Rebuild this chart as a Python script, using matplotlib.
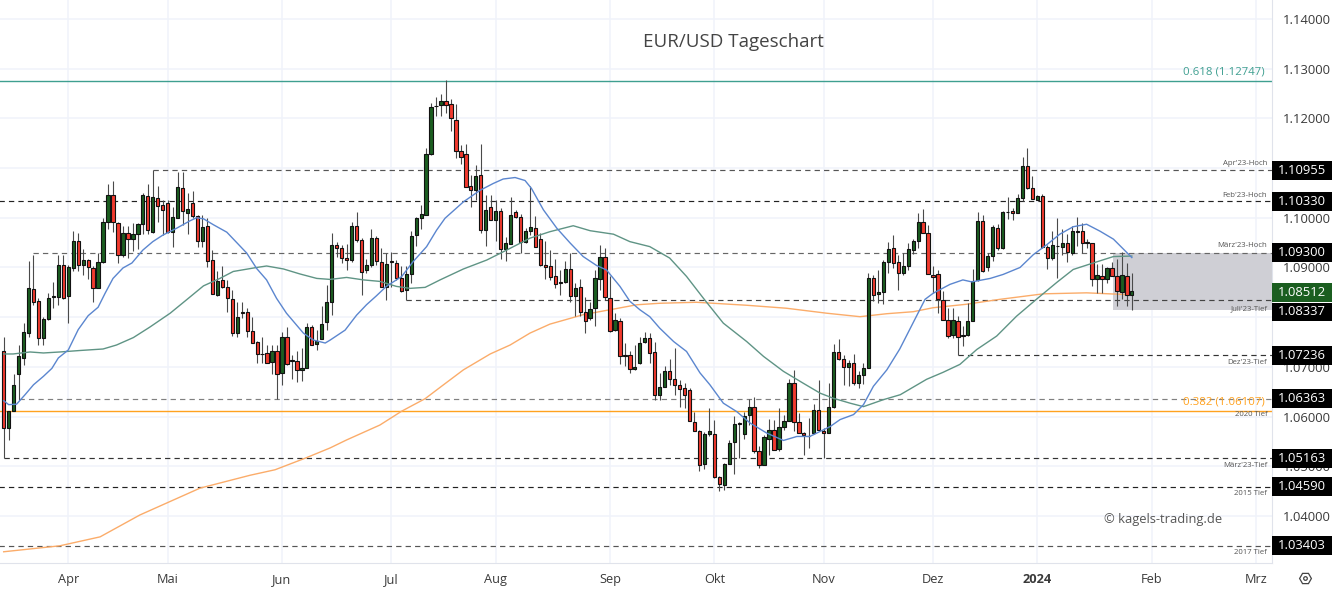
import matplotlib
matplotlib.use('Agg')
import matplotlib.pyplot as plt
from matplotlib.lines import Line2D
from matplotlib.patches import Rectangle

plt.rcParams['font.family'] = ['Open Sans', 'DejaVu Sans']

# Tageskerzen EUR/USD
opens = [1.0731,1.0578,1.0611,1.0685,1.0717,1.0769,1.0857,1.0833,1.0759,1.0796,
         1.0840,1.0840,1.0904,1.0843,1.0899,1.0954,1.0904,1.0916,1.0899,1.0859,
         1.0911,1.0991,1.1045,1.0989,1.0925,1.0969,1.0957,1.0968,1.0988,1.1043,
         1.0972,1.1040,1.1025,1.1030,1.0972,1.1000,1.1060,1.1009,1.1030,1.1004,
         1.0954,1.0983,1.0916,1.0845,1.0874,1.0860,1.0837,1.0768,1.0811,1.0811,
         1.0772,1.0751,1.0726,1.0727,1.0709,1.0732,1.0687,1.0760,1.0713,1.0711,
         1.0693,1.0697,1.0780,1.0747,1.0757,1.0790,1.0831,1.0945,1.0939,1.0920,
         1.0916,1.0983,1.0955,1.0894,1.0904,1.0959,1.0912,1.0861,1.0912,1.0910,
         1.0878,1.0854,1.0886,1.0966,1.1000,1.1006,1.1128,1.1224,1.1227,1.1235,
         1.1228,1.1197,1.1134,1.1129,1.1063,1.1056,1.1087,1.0976,1.1021,1.0996,
         1.1013,1.0937,1.0947,1.1011,1.1001,1.0951,1.0974,1.0979,1.0957,1.0904,
         1.0902,1.0883,1.0871,1.0870,1.0896,1.0843,1.0861,1.0810,1.0799,1.0819,
         1.0877,1.0922,1.0839,1.0774,1.0792,1.0723,1.0723,1.0695,1.0707,1.0750,
         1.0758,1.0729,1.0643,1.0660,1.0691,1.0675,1.0663,1.0657,1.0654,1.0590,
         1.0570,1.0505,1.0564,1.0564,1.0478,1.0463,1.0505,1.0548,1.0586,1.0565,
         1.0603,1.0619,1.0530,1.0503,1.0555,1.0573,1.0535,1.0580,1.0592,1.0667,
         1.0589,1.0567,1.0561,1.0566,1.0614,1.0572,1.0566,1.0619,1.0730,1.0716,
         1.0699,1.0708,1.0667,1.0683,1.0698,1.0878,1.0846,1.0851,1.0911,1.0939,
         1.0911,1.0888,1.0903,1.0936,1.0953,1.0992,1.0969,1.0885,1.0887,1.0835,
         1.0795,1.0764,1.0793,1.0764,1.0764,1.0793,1.0874,1.0993,1.0900,1.0924,
         1.0979,1.0940,1.1012,1.1013,1.1010,1.1040,1.1105,1.1060,1.1036,1.1044,
         1.0941,1.0920,1.0944,1.0941,1.0950,1.0930,1.0973,1.0973,1.0952,1.0949,
         1.0876,1.0882,1.0876,1.0898,1.0882,1.0851,1.0883,1.0845]
highs = [1.0761,1.0611,1.0686,1.0744,1.0788,1.0913,1.0925,1.0838,1.0800,1.0848,
         1.0871,1.0926,1.0925,1.0905,1.0973,1.0970,1.0938,1.0918,1.0902,1.0930,
         1.0999,1.1067,1.1075,1.0991,1.0983,1.0983,1.0990,1.0990,1.1049,1.1067,
         1.1096,1.1064,1.1036,1.1036,1.1021,1.1093,1.1093,1.1049,1.1054,1.1006,
         1.1006,1.0999,1.0935,1.0892,1.0902,1.0875,1.0855,1.0830,1.0831,1.0818,
         1.0801,1.0753,1.0761,1.0744,1.0744,1.0744,1.0771,1.0780,1.0723,1.0732,
         1.0739,1.0788,1.0784,1.0774,1.0823,1.0865,1.0969,1.0952,1.0945,1.0947,
         1.0991,1.1011,1.0959,1.0918,1.0977,1.0964,1.0940,1.0930,1.0932,1.0916,
         1.0902,1.0902,1.0973,1.1002,1.1026,1.1140,1.1230,1.1243,1.1249,1.1277,
         1.1240,1.1229,1.1146,1.1148,1.1086,1.1107,1.1148,1.1046,1.1046,1.1036,
         1.1019,1.0962,1.1042,1.1016,1.1007,1.0979,1.1064,1.1004,1.0969,1.0953,
         1.0935,1.0918,1.0894,1.0914,1.0930,1.0868,1.0877,1.0841,1.0831,1.0895,
         1.0945,1.0940,1.0882,1.0809,1.0798,1.0749,1.0731,1.0744,1.0761,1.0770,
         1.0768,1.0751,1.0688,1.0701,1.0716,1.0738,1.0673,1.0667,1.0657,1.0610,
         1.0574,1.0569,1.0617,1.0594,1.0480,1.0507,1.0552,1.0602,1.0590,1.0610,
         1.0636,1.0639,1.0540,1.0562,1.0596,1.0594,1.0617,1.0604,1.0676,1.0694,
         1.0607,1.0569,1.0597,1.0626,1.0674,1.0577,1.0667,1.0746,1.0757,1.0724,
         1.0714,1.0726,1.0691,1.0708,1.0889,1.0885,1.0895,1.0915,1.0952,1.0966,
         1.0925,1.0929,1.0949,1.0958,1.1009,1.1018,1.0985,1.0903,1.0895,1.0853,
         1.0819,1.0819,1.0803,1.0782,1.0829,1.0896,1.1012,1.1005,1.0930,1.0985,
         1.0987,1.1014,1.1042,1.1020,1.1047,1.1123,1.1141,1.1085,1.1045,1.1047,
         1.0945,1.0973,1.1000,1.0977,1.0967,1.0983,1.1001,1.0990,1.0957,1.0950,
         1.0908,1.0908,1.0900,1.0911,1.0918,1.0931,1.0910,1.0888]
lows = [1.0516,1.0552,1.0611,1.0634,1.0704,1.0761,1.0825,1.0744,1.0744,1.0794,
        1.0818,1.0825,1.0836,1.0788,1.0892,1.0892,1.0885,1.0877,1.0831,1.0858,
        1.0910,1.0977,1.0972,1.0910,1.0922,1.0919,1.0933,1.0938,1.0967,1.0967,
        1.0969,1.0992,1.0965,1.0969,1.0942,1.0999,1.0985,1.0967,1.0999,1.0942,
        1.0942,1.0900,1.0846,1.0843,1.0858,1.0811,1.0762,1.0761,1.0798,1.0761,
        1.0748,1.0707,1.0707,1.0707,1.0686,1.0636,1.0664,1.0704,1.0675,1.0669,
        1.0671,1.0697,1.0744,1.0734,1.0757,1.0774,1.0805,1.0922,1.0910,1.0895,
        1.0912,1.0952,1.0845,1.0888,1.0900,1.0905,1.0860,1.0835,1.0861,1.0875,
        1.0851,1.0834,1.0868,1.0944,1.0977,1.1005,1.1127,1.1205,1.1205,1.1210,
        1.1174,1.1120,1.1109,1.1061,1.1022,1.1036,1.0969,1.0944,1.0995,1.0954,
        1.0918,1.0914,1.0947,1.0999,1.0930,1.0950,1.0965,1.0942,1.0902,1.0876,
        1.0875,1.0858,1.0845,1.0868,1.0831,1.0803,1.0803,1.0768,1.0794,1.0783,
        1.0855,1.0835,1.0771,1.0773,1.0706,1.0701,1.0687,1.0694,1.0706,1.0748,
        1.0708,1.0634,1.0634,1.0660,1.0664,1.0644,1.0619,1.0617,1.0592,1.0570,
        1.0490,1.0495,1.0560,1.0477,1.0450,1.0453,1.0505,1.0484,1.0516,1.0555,
        1.0584,1.0527,1.0497,1.0503,1.0523,1.0533,1.0530,1.0574,1.0592,1.0570,
        1.0566,1.0523,1.0537,1.0564,1.0570,1.0517,1.0566,1.0617,1.0714,1.0664,
        1.0661,1.0664,1.0657,1.0666,1.0697,1.0832,1.0828,1.0827,1.0889,1.0899,
        1.0854,1.0884,1.0895,1.0927,1.0940,1.0969,1.0886,1.0849,1.0809,1.0795,
        1.0759,1.0759,1.0724,1.0743,1.0762,1.0792,1.0873,1.0891,1.0893,1.0913,
        1.0936,1.0938,1.0997,1.0995,1.1009,1.1034,1.1057,1.1037,1.1035,1.0940,
        1.0896,1.0916,1.0879,1.0925,1.0911,1.0925,1.0943,1.0930,1.0940,1.0863,
        1.0848,1.0848,1.0869,1.0882,1.0823,1.0836,1.0823,1.0814]
closes = [1.0577,1.0611,1.0664,1.0721,1.0770,1.0858,1.0831,1.0759,1.0796,1.0839,
          1.0842,1.0904,1.0838,1.0900,1.0954,1.0905,1.0916,1.0900,1.0859,1.0911,
          1.0991,1.1046,1.0991,1.0926,1.0970,1.0957,1.0968,1.0988,1.1045,1.0975,
          1.1042,1.1023,1.1015,1.0972,1.1002,1.1062,1.1013,1.1017,1.1003,1.0954,
          1.0981,1.0914,1.0846,1.0873,1.0860,1.0839,1.0768,1.0801,1.0809,1.0772,
          1.0749,1.0725,1.0725,1.0707,1.0732,1.0685,1.0760,1.0705,1.0711,1.0694,
          1.0697,1.0780,1.0745,1.0753,1.0786,1.0831,1.0945,1.0939,1.0920,1.0916,
          1.0983,1.0955,1.0891,1.0906,1.0960,1.0914,1.0861,1.0908,1.0911,1.0878,
          1.0853,1.0887,1.0963,1.1000,1.1007,1.1128,1.1222,1.1225,1.1235,1.1227,
          1.1200,1.1134,1.1123,1.1061,1.1056,1.1085,1.0976,1.1015,1.0996,1.1013,
          1.0937,1.0949,1.1006,1.1002,1.0951,1.0974,1.0981,1.0942,1.0904,1.0900,
          1.0880,1.0866,1.0869,1.0896,1.0843,1.0859,1.0810,1.0792,1.0817,1.0878,
          1.0922,1.0840,1.0772,1.0794,1.0722,1.0722,1.0695,1.0699,1.0749,1.0758,
          1.0728,1.0643,1.0659,1.0691,1.0675,1.0663,1.0655,1.0644,1.0592,1.0570,
          1.0503,1.0564,1.0571,1.0478,1.0465,1.0505,1.0547,1.0585,1.0585,1.0602,
          1.0619,1.0530,1.0503,1.0559,1.0573,1.0533,1.0580,1.0592,1.0667,1.0590,
          1.0567,1.0562,1.0560,1.0614,1.0574,1.0567,1.0619,1.0730,1.0716,1.0700,
          1.0708,1.0667,1.0684,1.0698,1.0878,1.0844,1.0851,1.0911,1.0938,1.0910,
          1.0889,1.0903,1.0938,1.0954,1.0991,1.0970,1.0886,1.0881,1.0836,1.0795,
          1.0763,1.0795,1.0761,1.0762,1.0793,1.0873,1.0993,1.0892,1.0924,1.0981,
          1.0940,1.1011,1.1011,1.1009,1.1039,1.1105,1.1060,1.1038,1.1044,1.0942,
          1.0920,1.0945,1.0943,1.0950,1.0932,1.0973,1.0972,1.0950,1.0949,1.0876,
          1.0884,1.0876,1.0898,1.0882,1.0852,1.0885,1.0845,1.0852]

# gleitende Durchschnitte (Kerze, Kurs)
ma20_bars = [0,1,2.6,4.3,6,8,9.7,11,13,15,17,19,20.4,22,24,25.8,28,30,32,34.8,37.5,38.8,40.2,42.2,44.9,
             46.9,48.9,50.9,52.9,54.9,56.9,60.3,62.3,64.7,65.7,68.7,71,73,75,77,80.1,82.4,85.1,87.1,88.8,
             92.5,95.8,98.5,100.5,102.9,104.9,106.2,108.6,111.3,114,116.6,119.3,121.3,124,126,128,130,132,
             134.8,137.4,140.1,142.1,144.8,147.5,150.2,153.5,156.9,159.6,162.2,166.3,168.3,171,173,175,
             177.7,180.3,183,185.4,187,190.4,193,194.8,198.5,201.1,204.5,207.2,209.9,212.5,215.2,217.9,
             220.6,223.3,227]
ma20_vals = [1.0632,1.0624,1.0625,1.0644,1.0664,1.0681,1.0697,1.0718,1.0734,1.0775,1.0803,1.0820,1.0848,1.0878,
             1.0899,1.0909,1.0935,1.0952,1.0965,1.0979,1.0994,1.1000,1.0998,1.0986,1.0971,1.0950,1.0929,1.0898,
             1.0875,1.0838,1.0808,1.0768,1.0754,1.0748,1.0754,1.0774,1.0804,1.0825,1.0843,1.0862,1.0882,1.0912,
             1.0942,1.0975,1.0999,1.1032,1.1055,1.1069,1.1078,1.1081,1.1075,1.1059,1.1016,1.0979,1.0949,1.0922,
             1.0904,1.0895,1.0862,1.0832,1.0815,1.0801,1.0778,1.0751,1.0731,1.0688,1.0664,1.0627,1.0610,1.0587,
             1.0567,1.0552,1.0560,1.0560,1.0580,1.0594,1.0604,1.0624,1.0661,1.0694,1.0736,1.0789,1.0836,1.0848,
             1.0866,1.0875,1.0871,1.0878,1.0886,1.0900,1.0926,1.0946,1.0967,1.0982,1.0987,1.0973,1.0957,1.0920]
ma50_bars = [0,1.9,5.3,8,11.3,15.4,20,22.7,26.1,29.4,33.5,36.8,40.2,43.5,46.2,50.9,52.9,56.3,59.6,63,65.7,69,72.4,
             75.7,79,81.8,84.8,87.8,92.5,97.2,101.2,105.9,109.9,114.6,118,122.7,126,130,134,137.4,140.8,144.8,
             149.5,152.9,156.9,160.9,164.3,166.9,170.3,173,177,180.4,185.7,189,192.4,195.8,199.8,203.8,207.8,
             211.9,215.2,218.9,223.3,227]
ma50_vals = [1.0726,1.0726,1.0730,1.0728,1.0730,1.0733,1.0736,1.0744,1.0759,1.0780,1.0808,1.0835,1.0863,1.0878,
             1.0892,1.0900,1.0903,1.0897,1.0887,1.0878,1.0876,1.0880,1.0875,1.0872,1.0862,1.0858,1.0860,1.0875,
             1.0897,1.0915,1.0935,1.0959,1.0972,1.0984,1.0974,1.0967,1.0952,1.0942,1.0919,1.0882,1.0838,1.0788,
             1.0751,1.0721,1.0691,1.0667,1.0647,1.0637,1.0627,1.0620,1.0634,1.0644,1.0675,1.0689,1.0705,1.0735,
             1.0762,1.0802,1.0836,1.0870,1.0896,1.0908,1.0922,1.0923]
ma200_bars = [0,11.3,19.4,27.4,39.5,49.6,54.6,60.6,65.7,69,75.7,80.1,84.8,88.5,92.5,97.9,101.9,105.9,109.9,116.6,
              122,127.4,132,139.4,149.5,157.5,165.6,172.3,177.7,183,187,193.7,200.5,209.2,217.9,227]
ma200_vals = [1.0328,1.0340,1.0358,1.0402,1.0456,1.0482,1.0493,1.0516,1.0537,1.0553,1.0583,1.0611,1.0636,1.0664,
              1.0694,1.0726,1.0744,1.0768,1.0786,1.0805,1.0815,1.0825,1.0828,1.0830,1.0824,1.0818,1.0808,1.0801,
              1.0807,1.0811,1.0819,1.0826,1.0836,1.0847,1.0849,1.0845]

# Horizontale Marken
level_prices = [1.10955,1.10330,1.09300,1.08337,1.07236,1.06363,1.05163,1.04590,1.03403]
level_starts = [30,-1,6,81,192,3,0,-1,-1]
level_colors = ['#555555','#222222','#666666','#444444','#333333','#808080','#333333','#222222','#555555']
level_notes = ["Apr'23-Hoch","Feb'23-Hoch","März'23-Hoch","Juli'23-Tief","Dez'23-Tief",'',"März'23-Tief",'2015 Tief','2017 Tief']
note_offsets = [5,4.2,5,-6,-5,0,-5,-5,-5]
last_close = 1.08512
box_bottom = 1.08145
box_top = 1.09300
box_start = 223.3
fib_prices = [1.12747,1.06107]
fib_labels = ['0.618 (1.12747)','0.382 (1.06107)']
fib_colors = ['#3f9f90','#ffa21f']

tick_bars = [13,33,56,78,99,122,143,165,187,208,231,252]
tick_names = ['Apr','Mai','Jun','Jul','Aug','Sep','Okt','Nov','Dez','2024','Feb','Mrz']
price_ticks = [1.04,1.05,1.06,1.07,1.08,1.09,1.10,1.11,1.12,1.13,1.14]
# 1.08 und 1.11 liegen ganz unter den schwarzen Marken
hidden_ticks = [1.08,1.11]

fig = plt.figure(figsize=(13.32, 5.90), dpi=100)
ax = fig.add_axes([0, 27/590, 1272/1332, 563/590])
ax.set_xlim(-0.74, 255.2)
ax.set_ylim(1.03054, 1.14382)
ax.set_axisbelow(True)
ax.grid(True, color='#f0f3fa', linewidth=1.1)

ax.yaxis.tick_right()
ax.set_yticks(price_ticks)
ax.set_yticklabels(['' if p in hidden_ticks else '%.5f' % p for p in price_ticks], fontsize=9.4, color='#3a3a3a')
ax.set_xticks(tick_bars)
ax.set_xticklabels(tick_names, fontsize=9.2, color='#3a3a3a')
ax.get_xticklabels()[9].set_fontweight('bold')
ax.tick_params(length=0)
ax.tick_params(axis='y', pad=8)
ax.tick_params(axis='x', pad=7)
for side in ['left', 'top']:
    ax.spines[side].set_visible(False)
for side in ['right', 'bottom']:
    ax.spines[side].set_color('#e0e3eb')

# graue Box
ax.add_patch(Rectangle((box_start, box_bottom), 255.2 - box_start, box_top - box_bottom,
                       facecolor='#cfcfd5', edgecolor='none', zorder=1))

# Fibonacci
for p, lab, col in zip(fib_prices, fib_labels, fib_colors):
    ax.axhline(p, color=col, linewidth=1.0, zorder=1.5)
    ax.annotate(lab, (1, p), xycoords=('axes fraction', 'data'), xytext=(-5.5, 2.5), textcoords='offset points',
                ha='right', va='bottom', fontsize=8.2, color=col, zorder=6)

# gestrichelte Marken
for p, start, col, note, off in zip(level_prices, level_starts, level_colors, level_notes, note_offsets):
    ax.plot([start, 255.2], [p, p], color=col, linewidth=0.85, dashes=(4.5, 3.5), zorder=1.6)
    if note:
        ax.annotate(note, (1, p), xycoords=('axes fraction', 'data'), xytext=(-3.5, off), textcoords='offset points',
                    ha='right', va='center', fontsize=5.6, color='#555555', zorder=6)
ax.annotate('2020 Tief', (1, fib_prices[1]), xycoords=('axes fraction', 'data'), xytext=(-3.5, -2.5),
            textcoords='offset points', ha='right', va='center', fontsize=5.6, color='#555555', zorder=6)

# Durchschnitte
ax.plot(ma200_bars, ma200_vals, color='#fbac6a', linewidth=1.0, zorder=2)
ax.plot(ma50_bars, ma50_vals, color='#5f9485', linewidth=1.0, zorder=4)
ax.plot(ma20_bars, ma20_vals, color='#5b86cf', linewidth=1.0, zorder=4)

# Kerzen
for i, (o, h, l, c) in enumerate(zip(opens, highs, lows, closes)):
    ax.plot([i, i], [l, h], color='#4a4a4a', linewidth=0.8, solid_capstyle='butt', zorder=3)
    up = c >= o
    bottom = min(o, c)
    height = max(abs(c - o), 0.00012)
    ax.bar(i, height, bottom=bottom, width=0.66, color='#1b5e20' if up else '#f23a2e',
           edgecolor='#111111', linewidth=0.8, zorder=3)

# Kursmarken rechts
trans = ax.get_yaxis_transform()
badge_prices = [1.10955,1.10330,1.09300,1.07236,1.06363,1.05163,1.04590,1.03403]
for p in badge_prices:
    ax.add_patch(Rectangle((1, p - 0.0019), 60 / 1272, 0.0038, transform=trans, facecolor='black',
                           edgecolor='none', clip_on=False, zorder=7))
    ax.text(1 + 30 / 1272, p, '%.5f' % p, transform=trans, ha='center', va='center', color='white',
            fontsize=9.4, zorder=8)
ax.add_patch(Rectangle((1, 1.08302), 60 / 1272, 0.0038, transform=trans, facecolor='#1b5e20',
                       edgecolor='none', clip_on=False, zorder=7))
ax.text(1 + 30 / 1272, 1.08492, '%.5f' % last_close, transform=trans, ha='center', va='center',
        color='white', fontsize=9.4, zorder=8)
# 1.08337 sitzt versetzt unter der Marke
ax.add_patch(Rectangle((1, 1.08105 - 0.0019), 60 / 1272, 0.0038, transform=trans, facecolor='black',
                       edgecolor='none', clip_on=False, zorder=7))
ax.text(1 + 30 / 1272, 1.08105, '1.08337', transform=trans, ha='center', va='center', color='white',
        fontsize=9.4, zorder=8)

fig.text(733 / 1332, 1 - 42 / 590, 'EUR/USD Tageschart', ha='center', va='center', fontsize=13.5, color='#444444')
fig.text(1104 / 1332, 1 - 519 / 590, '© kagels-trading.de', ha='left', va='center', fontsize=9.3, color='#555555')

# Einstellungs-Symbol
fig.add_artist(Line2D([1305 / 1332], [1 - 578 / 590], marker='H', markersize=8.5, markerfacecolor='none',
                      markeredgecolor='#444444', markeredgewidth=0.9, linestyle='none'))
fig.add_artist(Line2D([1305 / 1332], [1 - 578 / 590], marker='o', markersize=2.6, markerfacecolor='none',
                      markeredgecolor='#444444', markeredgewidth=0.9, linestyle='none'))

plt.savefig('out.png', dpi=100)
